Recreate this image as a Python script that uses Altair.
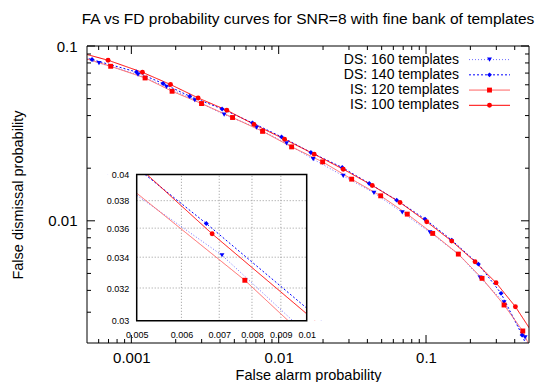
import altair as alt
import pandas as pd

# ---------------- data ----------------
series_names = ["DS: 160 templates", "DS: 140 templates", "IS: 120 templates", "IS: 100 templates"]

fa_ds160 = [0.000382, 0.000603, 0.00111, 0.001731, 0.002695, 0.004263, 0.00708, 0.01131, 0.01715, 0.02742,
            0.04432, 0.06901, 0.1064, 0.1657, 0.2327, 0.3386, 0.4704, 0.51]
fd_ds160 = [0.0897, 0.07993, 0.06863, 0.05831, 0.04894, 0.04055, 0.03413, 0.02769, 0.02252, 0.01807,
            0.01445, 0.01117, 0.008588, 0.006451, 0.004736, 0.003418, 0.002156, 0.0018]

fa_ds140 = [0.000337, 0.000541, 0.001083, 0.001642, 0.002492, 0.00413, 0.00664, 0.01046, 0.01655, 0.027,
            0.04119, 0.06324, 0.09845, 0.1494, 0.2266, 0.3231, 0.4488, 0.493]
fd_ds140 = [0.0932, 0.08363, 0.07101, 0.06098, 0.05159, 0.04365, 0.03633, 0.0302, 0.0246, 0.02019,
            0.01636, 0.01313, 0.01023, 0.007756, 0.005656, 0.003846, 0.002222, 0.001824]

fa_is120 = [0.000437, 0.000724, 0.001239, 0.00189, 0.002994, 0.004862, 0.00777, 0.01224, 0.01987, 0.03128,
            0.04923, 0.07461, 0.111, 0.1657, 0.2401, 0.3386, 0.4538, 0.525]
fd_is120 = [0.0873, 0.07656, 0.06565, 0.05509, 0.04687, 0.03899, 0.03249, 0.02648, 0.02173, 0.01731,
            0.0139, 0.01092, 0.008472, 0.006451, 0.004687, 0.003299, 0.002343, 0.001777]

fa_is100 = [0.00042, 0.000695, 0.001189, 0.001845, 0.002838, 0.004446, 0.0068, 0.01096, 0.01742, 0.02742,
            0.04316, 0.06659, 0.1011, 0.1494, 0.2152, 0.2988, 0.4043, 0.54]
fd_is100 = [0.093, 0.0829, 0.0707, 0.0602, 0.05045, 0.04291, 0.0356, 0.0293, 0.02405, 0.01974,
            0.01593, 0.01274, 0.00987, 0.007655, 0.005831, 0.004421, 0.003226, 0.00222]

x_domain = [0.0005, 0.5]
y_domain = [0.002, 0.1]
x_major = [0.001, 0.01, 0.1]
x_minor = [0.0006, 0.0007, 0.0008, 0.0009,
           0.002, 0.003, 0.004, 0.005, 0.006, 0.007, 0.008, 0.009,
           0.02, 0.03, 0.04, 0.05, 0.06, 0.07, 0.08, 0.09,
           0.2, 0.3, 0.4]
y_major = [0.01, 0.1]
y_minor = [0.003, 0.004, 0.005, 0.006, 0.007, 0.008, 0.009,
           0.02, 0.03, 0.04, 0.05, 0.06, 0.07, 0.08, 0.09]

inset_x_domain = [0.005, 0.01]
inset_y_domain = [0.03, 0.04]
inset_x_ticks = [0.005, 0.006, 0.007, 0.008, 0.009, 0.01]
inset_y_ticks = [0.03, 0.032, 0.034, 0.036, 0.038, 0.04]

title_text = "FA vs FD probability curves for SNR=8 with fine bank of templates"
x_title = "False alarm probability"
y_title = "False dismissal probability"

# ---------------- styles / layout ----------------
W, H = 442, 297
FONT = "Liberation Sans"
line_colors = ["#6e6eff", "#0000ff", "#ff6464", "#ff0000"]
marker_colors = ["#0000ff", "#0000ff", "#ff0000", "#ff0000"]
dashes = [[1, 2], [2, 2], [1, 0], [1, 0]]
shapes = ["triangle-down", "diamond", "square", "circle"]

ix0, ix1 = 49.7, 219.7       # inset x range (px)
iy_top, iy_bot = 128.6, 274.8  # inset y range (px)

rows = []
for name, fa, fd in zip(series_names,
                        [fa_ds160, fa_ds140, fa_is120, fa_is100],
                        [fd_ds160, fd_ds140, fd_is120, fd_is100]):
    for i, (a, b) in enumerate(zip(fa, fd)):
        rows.append({"series": name, "fa": a, "fd": b, "i": i})
df = pd.DataFrame(rows)

stroke_enc = alt.Stroke("series:N", scale=alt.Scale(domain=series_names, range=line_colors), legend=None)
dash_enc = alt.StrokeDash("series:N", scale=alt.Scale(domain=series_names, range=dashes), legend=None)
fill_enc = alt.Fill("series:N", scale=alt.Scale(domain=series_names, range=marker_colors), legend=None)
shape_enc = alt.Shape("series:N", scale=alt.Scale(domain=series_names, range=shapes), legend=None)

x_scale = alt.Scale(type="log", domain=x_domain, nice=False)
y_scale = alt.Scale(type="log", domain=y_domain, nice=False)
ix_scale = alt.Scale(type="log", domain=inset_x_domain, range=[ix0, ix1], nice=False)
iy_scale = alt.Scale(type="log", domain=inset_y_domain, range=[iy_bot, iy_top], nice=False)


def curves(xs, ys):
    base = alt.Chart(df)
    line = base.mark_line(clip=True, strokeWidth=1).encode(
        x=alt.X("fa:Q", scale=xs, axis=None),
        y=alt.Y("fd:Q", scale=ys, axis=None),
        stroke=stroke_enc, strokeDash=dash_enc, order="i:Q")
    pts = base.mark_point(filled=True, clip=True, opacity=1, size=24).encode(
        x=alt.X("fa:Q", scale=xs, axis=None),
        y=alt.Y("fd:Q", scale=ys, axis=None),
        fill=fill_enc, shape=shape_enc)
    return [line, pts]


x_axis = alt.Axis(values=x_major, format="~g", title=x_title, orient="bottom", ticks=False, domain=False,
                  grid=False, labelFontSize=15, labelFont=FONT, labelColor="black", labelPadding=7,
                  labelFlush=False, labelOverlap=False, titleFontSize=14.5, titleFont=FONT,
                  titleFontWeight="normal", titleColor="black", titlePadding=3, zindex=1)
y_axis = alt.Axis(values=y_major, format="~g", title=y_title, orient="left", ticks=False, domain=False,
                  grid=False, labelFontSize=15, labelFont=FONT, labelColor="black", labelPadding=10,
                  labelFlush=False, labelOverlap=False, titleFontSize=14.5, titleFont=FONT,
                  titleFontWeight="normal", titleColor="black", titlePadding=22, zindex=1)

# ---- inset (grid + curves) ----
gx_df = pd.DataFrame({"v": inset_x_ticks[1:-1], "lo": inset_y_domain[0], "hi": inset_y_domain[1]})
gy_df = pd.DataFrame({"v": inset_y_ticks[1:-1], "lo": inset_x_domain[0], "hi": inset_x_domain[1]})
grid_x = alt.Chart(gx_df).mark_rule(color="#999999", strokeDash=[1, 2], strokeWidth=1).encode(
    x=alt.X("v:Q", scale=ix_scale, axis=None), y=alt.Y("lo:Q", scale=iy_scale, axis=None), y2="hi:Q")
grid_y = alt.Chart(gy_df).mark_rule(color="#999999", strokeDash=[1, 2], strokeWidth=1).encode(
    y=alt.Y("v:Q", scale=iy_scale, axis=None), x=alt.X("lo:Q", scale=ix_scale, axis=None), x2="hi:Q")
inset_layer = alt.layer(grid_x, grid_y, *curves(ix_scale, iy_scale))

# ---- mask outside inset ----
one = pd.DataFrame({"a": [0]})


def mrect(x0, x1, y0, y1):
    return alt.Chart(one).mark_rect(color="white", opacity=1).encode(
        x=alt.value(x0), x2=alt.value(x1), y=alt.value(y0), y2=alt.value(y1))


mask = alt.layer(mrect(-1, W + 1, -1, iy_top), mrect(-1, W + 1, iy_bot, H + 1),
                 mrect(-1, ix0, iy_top, iy_bot), mrect(ix1, W + 1, iy_top, iy_bot))

# ---- inset frame + labels ----
frame_df = pd.DataFrame({"x0": [inset_x_domain[0]], "x1": [inset_x_domain[1]],
                         "y0": [inset_y_domain[0]], "y1": [inset_y_domain[1]]})
ix_axis = alt.Axis(values=inset_x_ticks, format=".3~f", orient="bottom", offset=-(H - iy_bot), ticks=False,
                   domain=False, grid=False, labelFontSize=9, labelFont=FONT, labelColor="black",
                   labelPadding=10, labelFlush=False, labelOverlap=False, title=None, zindex=1)
iy_axis = alt.Axis(values=inset_y_ticks, format=".3~f", orient="left", offset=-ix0, ticks=False,
                   domain=False, grid=False, labelFontSize=9, labelFont=FONT, labelColor="black",
                   labelPadding=8, labelFlush=False, labelOverlap=False, title=None, zindex=1)
frame = alt.Chart(frame_df).mark_rect(fillOpacity=0, stroke="black", strokeWidth=1.5).encode(
    x=alt.X("x0:Q", scale=ix_scale, axis=ix_axis), x2="x1:Q",
    y=alt.Y("y0:Q", scale=iy_scale, axis=iy_axis), y2="y1:Q")

# ---- main axes carrier ----
axes_carrier = alt.Chart(df).mark_point(opacity=0, size=1).encode(
    x=alt.X("fa:Q", scale=x_scale, axis=x_axis),
    y=alt.Y("fd:Q", scale=y_scale, axis=y_axis))


# ---- main curves + ticks ----
def xticks(vals, length):
    d = pd.DataFrame({"v": vals})
    b = alt.Chart(d).mark_rule(color="black", strokeWidth=1).encode(
        x=alt.X("v:Q", scale=x_scale, axis=None), y=alt.value(H), y2=alt.value(H - length))
    t = alt.Chart(d).mark_rule(color="black", strokeWidth=1).encode(
        x=alt.X("v:Q", scale=x_scale, axis=None), y=alt.value(0), y2=alt.value(length))
    return [b, t]


def yticks(vals, length):
    d = pd.DataFrame({"v": vals})
    l = alt.Chart(d).mark_rule(color="black", strokeWidth=1).encode(
        y=alt.Y("v:Q", scale=y_scale, axis=None), x=alt.value(0), x2=alt.value(length))
    r = alt.Chart(d).mark_rule(color="black", strokeWidth=1).encode(
        y=alt.Y("v:Q", scale=y_scale, axis=None), x=alt.value(W), x2=alt.value(W - length))
    return [l, r]


main_layer = alt.layer(*curves(x_scale, y_scale),
                       *xticks(x_major, 8), *xticks(x_minor, 4),
                       *yticks(y_major, 8), *yticks(y_minor, 4))

# ---- legend ----
leg_df = pd.DataFrame({"series": series_names})
leg_y = alt.Y("series:N", scale=alt.Scale(type="point", domain=series_names, range=[13.6, 59.3], padding=0),
              axis=None)
leg_text = alt.Chart(leg_df).mark_text(align="right", baseline="middle", fontSize=14, font=FONT,
                                       color="black").encode(x=alt.value(372), y=leg_y, text="series:N")
leg_rule = alt.Chart(leg_df).mark_rule(strokeWidth=1).encode(
    x=alt.value(382), x2=alt.value(423), y=leg_y, stroke=stroke_enc, strokeDash=dash_enc)
leg_pt = alt.Chart(leg_df).mark_point(filled=True, opacity=1, size=24).encode(
    x=alt.value(402.5), y=leg_y, fill=fill_enc, shape=shape_enc)
legend = alt.layer(leg_text, leg_rule, leg_pt)

border = alt.Chart(one).mark_rect(fillOpacity=0, stroke="black", strokeWidth=1).encode(
    x=alt.value(0), x2=alt.value(W), y=alt.value(0), y2=alt.value(H))

chart = alt.layer(inset_layer, mask, frame, axes_carrier, main_layer, legend, border).resolve_scale(
    x="independent", y="independent"
).properties(
    width=W, height=H,
    title=alt.TitleParams(title_text, fontSize=15.5, font=FONT, fontWeight="normal", anchor="middle",
                          color="black", offset=12),
    padding={"left": 79, "top": 38, "right": 19, "bottom": 39},
    autosize=alt.AutoSizeParams(type="none"),
).configure_view(stroke=None).configure(background="white")

chart.save("out.html", embed_options={"renderer": "svg", "actions": False})
